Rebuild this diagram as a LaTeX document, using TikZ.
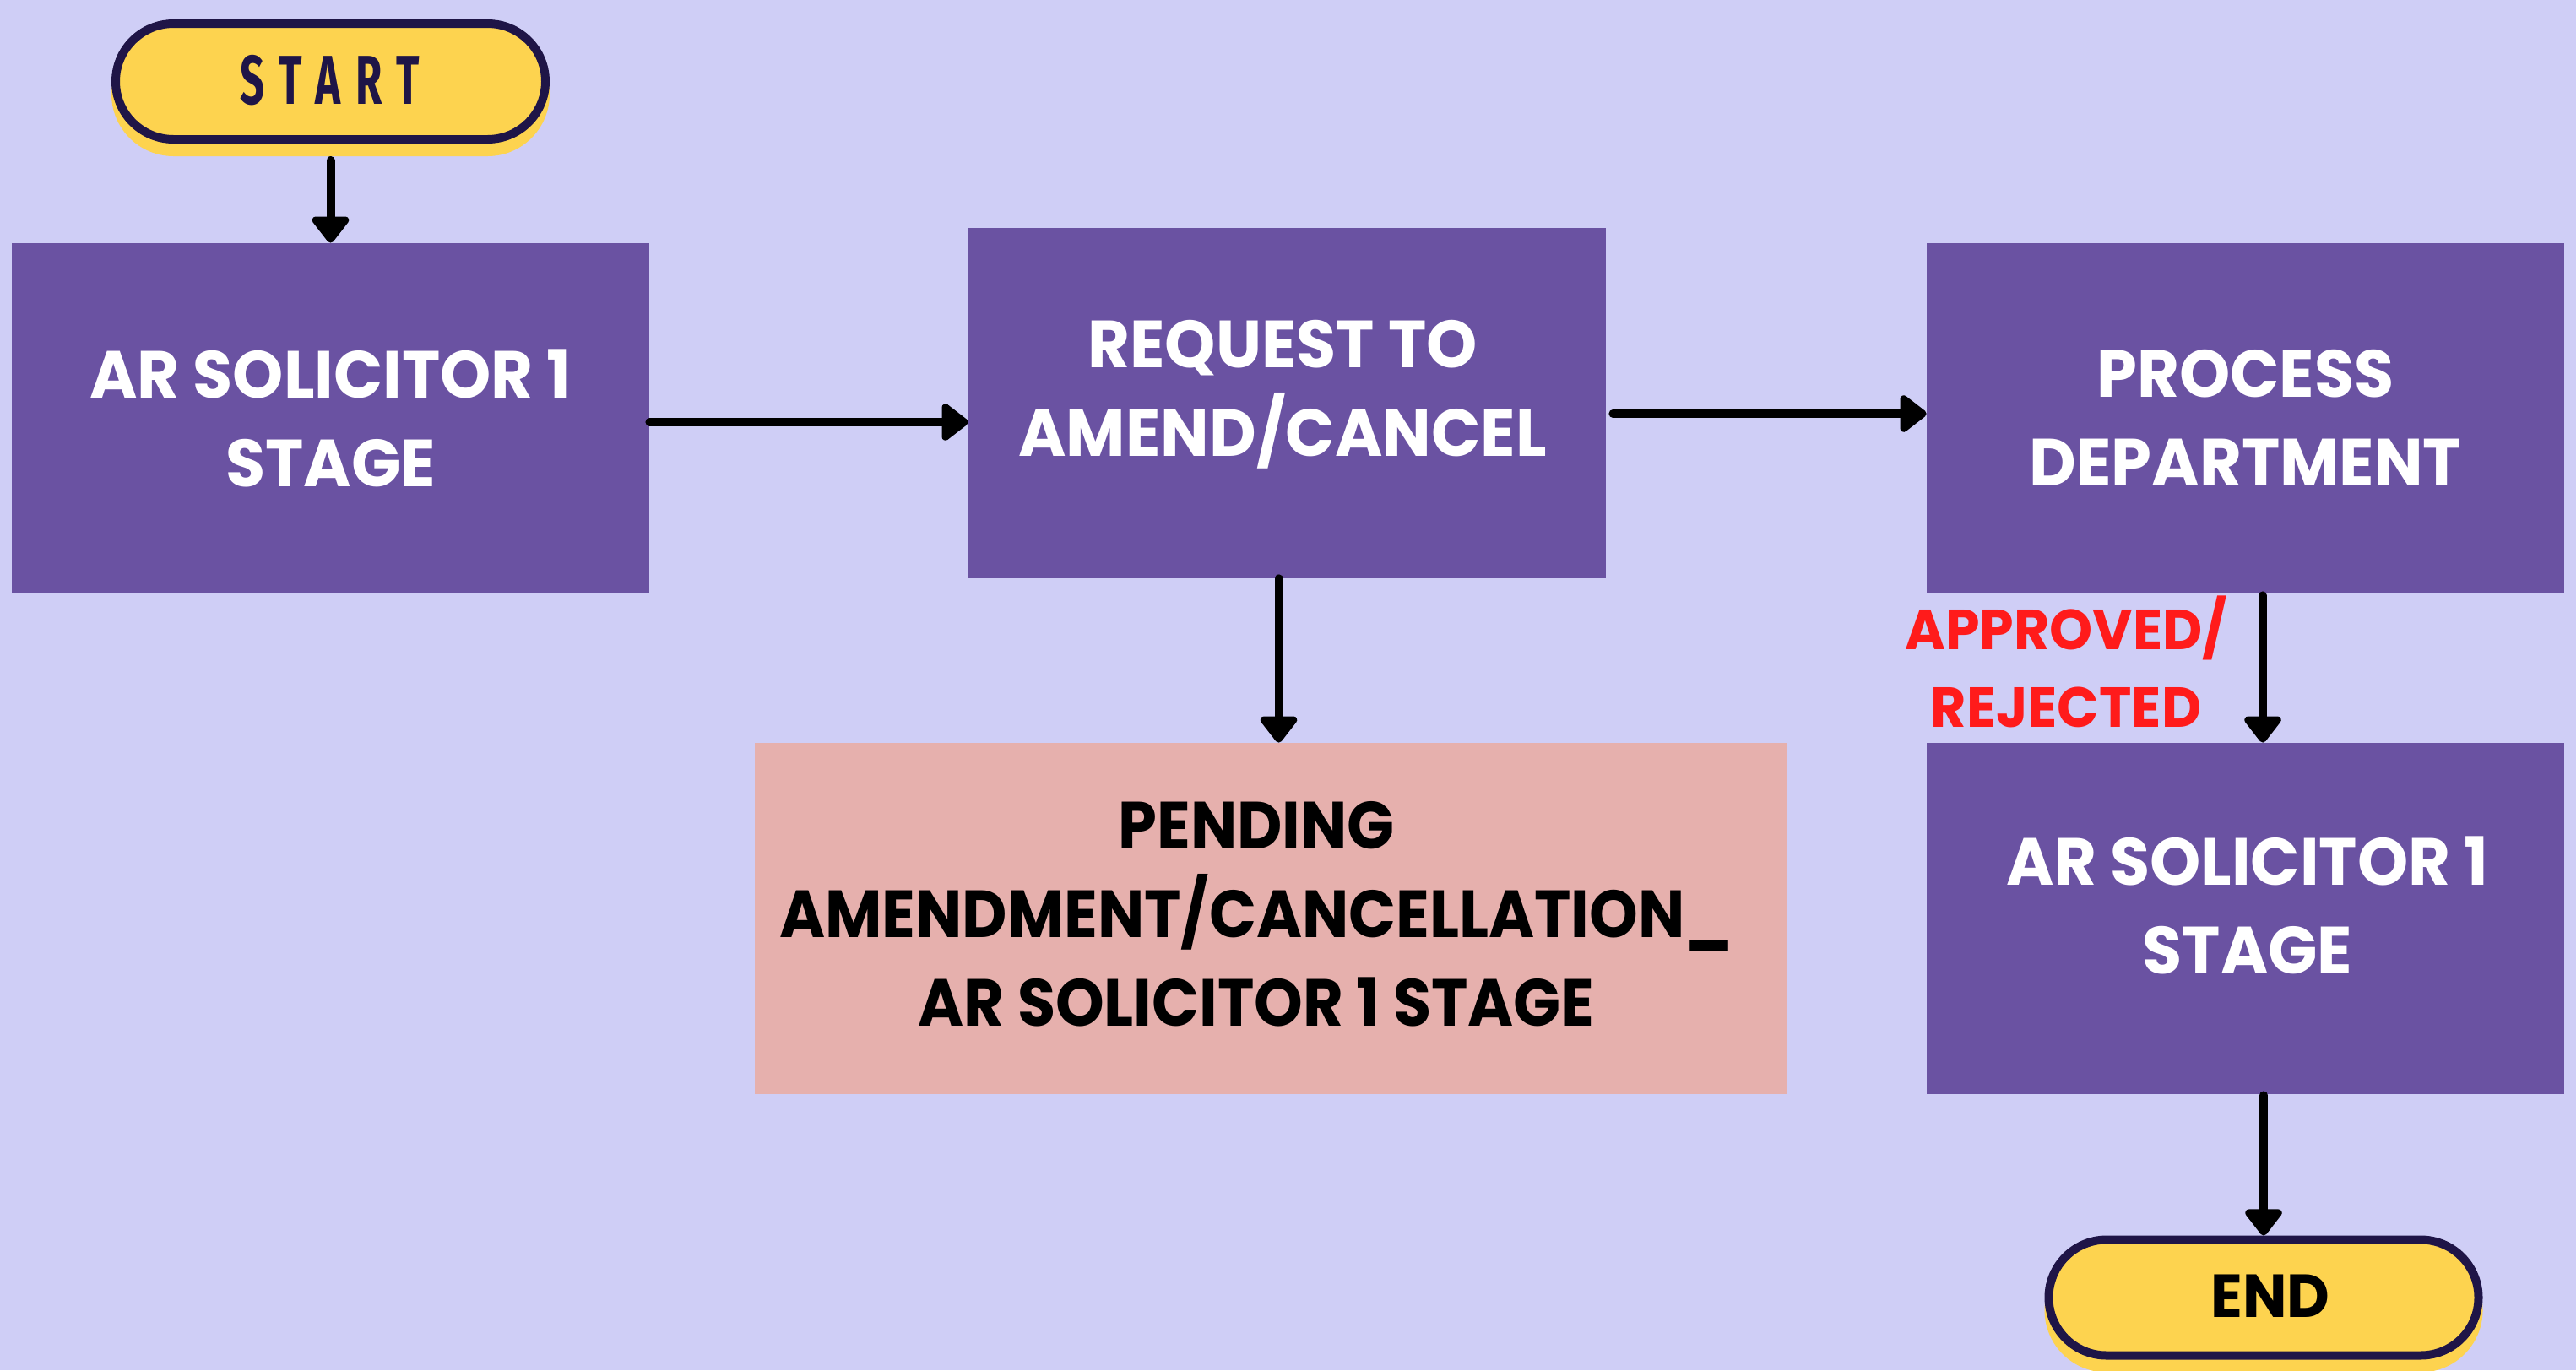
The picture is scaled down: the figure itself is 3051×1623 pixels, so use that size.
\documentclass[tikz,border=0pt]{standalone}
\usepackage{fontspec}
\usetikzlibrary{arrows.meta,shapes.misc}
\newfontfamily\boxfont{Poppins}[FakeStretch=0.97]
\newfontfamily\pendfont{Poppins}[FakeStretch=0.93]
\newfontfamily\startfont{Fira Sans}[FakeStretch=0.62,LetterSpace=22]
\definecolor{bgc}{HTML}{CFCEF6}
\definecolor{boxpurple}{HTML}{6A52A2}
\definecolor{pinkc}{HTML}{E6B0AD}
\definecolor{yellowc}{HTML}{FDD34F}
\definecolor{navyc}{HTML}{1F1547}
\definecolor{redc}{HTML}{FF1B1B}
\begin{document}
\begin{tikzpicture}[x=0.5pt,y=-0.5pt,
  stagebox/.style={rectangle, fill=boxpurple, inner sep=0pt, text=white, align=center,
    minimum width=377.5pt, minimum height=207pt,
    font=\boxfont\bfseries\fontsize{39.5pt}{52.5pt}\selectfont},
  pendbox/.style={stagebox, fill=pinkc, text=black, minimum width=611pt, minimum height=208pt,
    font=\pendfont\bfseries\fontsize{39.5pt}{52.5pt}\selectfont},
  pill/.style={rounded rectangle, fill=yellowc, draw=navyc, line width=5pt, inner sep=0pt,
    minimum width=254.5pt, minimum height=68.5pt},
  pillshadow/.style={rounded rectangle, fill=yellowc, inner sep=0pt,
    minimum width=259.5pt, minimum height=73.5pt},
  plaintext/.style={inner sep=0pt, align=center},
  arr/.style={line width=5pt, line cap=round, -{Triangle[width=25pt,length=17pt,round]}},
  lbl/.style={plaintext, text=redc,
    font=\boxfont\bfseries\fontsize{33.5pt}{46pt}\selectfont}
]
\fill[bgc] (0,0) rectangle (3051,1623);
\useasboundingbox (0,0) rectangle (3051,1623);

% start / end pills
\node[pillshadow] (startsh) at (391.5,111.5) {};
\node[pill] (start) at (391.5,96.5) {};
\node[plaintext, text=navyc, font=\startfont\bfseries\fontsize{41pt}{44pt}\selectfont] (starttxt) at (391,95) {START};

\node[pillshadow] (endsh) at (2681,1552) {};
\node[pill] (end) at (2681,1537) {};
\node[plaintext, text=black, font=\boxfont\bfseries\fontsize{36pt}{40pt}\selectfont] (endtxt) at (2689,1535) {END};

% boxes
\node[stagebox] (box1) at (391.5,495) {AR SOLICITOR 1\\STAGE};
\node[stagebox, minimum height=207.5pt] (box2) at (1524.5,477.5) {};
\node[stagebox] (box3) at (2659.5,495) {PROCESS\\DEPARTMENT};
\node[stagebox, minimum height=208pt] (box4) at (2659.5,1088) {};
\node[pendbox] (pend) at (1505,1088) {};

\node[stagebox, fill=none, minimum width=0pt, minimum height=0pt] (box2txt) at (1519,467) {REQUEST TO\\AMEND/CANCEL};
\node[stagebox, fill=none, minimum width=0pt, minimum height=0pt] (box4txt) at (2662,1072) {AR SOLICITOR 1\\STAGE};
\node[pendbox, fill=none, minimum width=0pt, minimum height=0pt] (pendtxt) at (1488,1083) {PENDING\\AMENDMENT/CANCELLATION\_\\AR SOLICITOR 1 STAGE};

% label
\node[lbl] (appr) at (2447,784) {APPROVED/\\REJECTED};

% connectors
\draw[arr] ([yshift=-10pt]start.south) -- (box1.north);
\draw[arr] ([yshift=-2.5pt]box1.east) -- ([yshift=-2.5pt]box1.east -| box2.west);
\draw[arr] ([xshift=4pt,yshift=-6.25pt]box2.east) -- ([yshift=-6.25pt]box2.east -| box3.west);
\draw[arr] ([xshift=-5pt]box2.south) -- ([xshift=-5pt]box2.south |- pend.north);
\draw[arr] ([xshift=10.25pt,yshift=-1.5pt]box3.south) -- ([xshift=10.25pt]box3.south |- box4.north);
\draw[arr] ([yshift=-0.5pt]box4.south -| end.north) -- (end.north);
\end{tikzpicture}
\end{document}
